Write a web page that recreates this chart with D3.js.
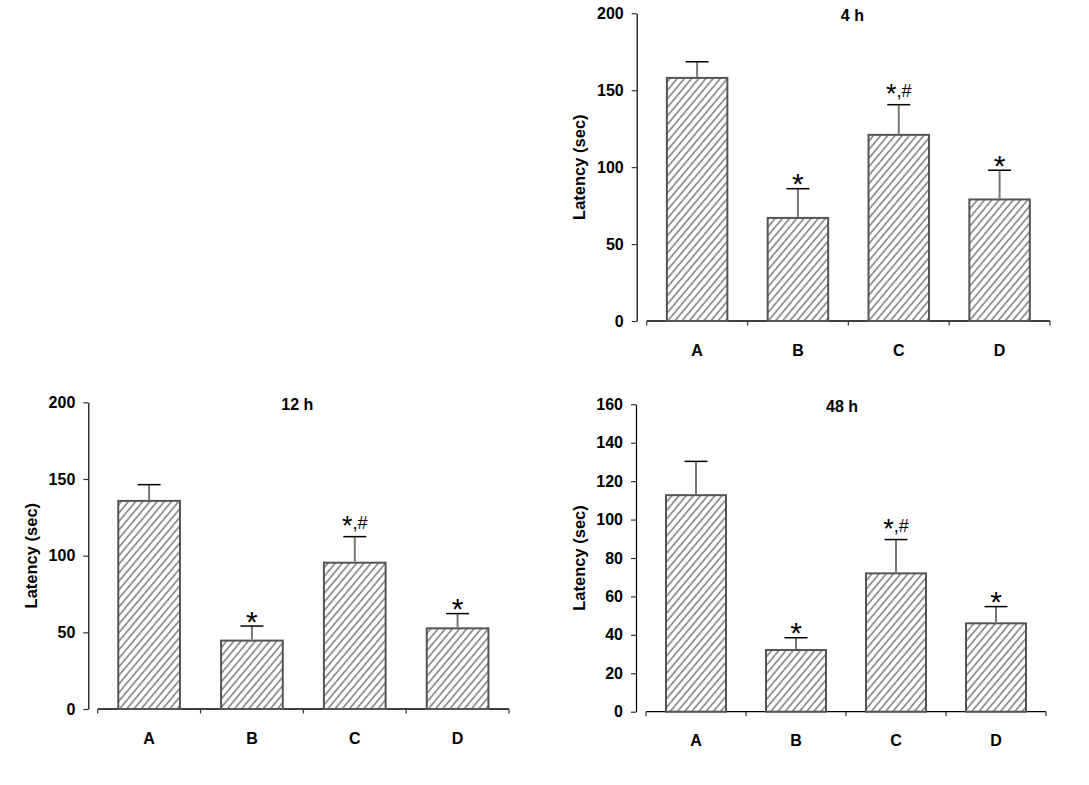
<!DOCTYPE html>
<html>
<head>
<meta charset="utf-8">
<script src="https://cdn.jsdelivr.net/npm/d3@7/dist/d3.min.js"></script>
<style>
  html, body { margin: 0; padding: 0; background: #fff; }
  svg { display: block; }
  text { font-family: "Liberation Sans", Arial, sans-serif; fill: #000; }
</style>
</head>
<body>
<svg id="chart" width="1089" height="785"></svg>
<script>
// ---- data ----
const categories = ["A", "B", "C", "D"];
const latency4h  = [158, 67, 121, 79];
const sem4h      = [10.5, 19, 19.6, 19];
const latency12h = [135.7, 44.6, 95.4, 52.6];
const sem12h     = [10.6, 9.5, 17, 9.6];
const latency48h = [112.7, 32.1, 72, 46];
const sem48h     = [17.6, 6.4, 17.6, 8.7];
const signif     = ["", "*", "*,#", "*"];
const ticks200   = [0, 50, 100, 150, 200];
const ticks160   = [0, 20, 40, 60, 80, 100, 120, 140, 160];
const yLabel     = "Latency (sec)";

// ---- layout (positions only) ----
const panels = [
  { title: "4 h",  values: latency4h,  sem: sem4h,  ticks: ticks200, yMax: 200,
    axisX: 636.7, top: 13.3,  bottom: 321,   x0: 646.7, x1: 1050, titleDx: 4 },
  { title: "12 h", values: latency12h, sem: sem12h, ticks: ticks200, yMax: 200,
    axisX: 88.3,  top: 402.3, bottom: 709,   x0: 97.7,  x1: 509,  titleDx: -6 },
  { title: "48 h", values: latency48h, sem: sem48h, ticks: ticks160, yMax: 160,
    axisX: 636,   top: 404.3, bottom: 711.7, x0: 646,   x1: 1046, titleDx: -4 }
];

const FONT = "Liberation Sans, Arial, sans-serif";
const svg = d3.select("#chart");
const defs = svg.append("defs");
const pat = defs.append("pattern")
  .attr("id", "hatch")
  .attr("patternUnits", "userSpaceOnUse")
  .attr("width", 5.5).attr("height", 10)
  .attr("patternTransform", "rotate(40)");
pat.append("rect").attr("width", 5.5).attr("height", 10).attr("fill", "#fff");
pat.append("line").attr("x1", 2.75).attr("y1", -1).attr("x2", 2.75).attr("y2", 11)
  .attr("stroke", "#1a1a1a").attr("stroke-width", 0.9);

panels.forEach(p => {
  const g = svg.append("g");
  const y = d3.scaleLinear().domain([0, p.yMax]).range([p.bottom, p.top]);
  const x = d3.scaleBand().domain(categories).range([p.x0, p.x1])
    .paddingInner(0.4).paddingOuter(0.2);

  // y axis
  const ya = g.append("g").attr("transform", `translate(${p.axisX},0)`)
    .call(d3.axisLeft(y).tickValues(p.ticks).tickSize(5).tickSizeOuter(0).tickPadding(8));
  ya.attr("font-size", 16).attr("font-family", FONT);
  ya.select(".domain").attr("stroke", "#000").attr("stroke-width", 1.2);
  ya.selectAll(".tick line").attr("stroke", "#333").attr("stroke-width", 1.2);
  ya.selectAll(".tick text").attr("font-family", FONT)
    .style("font-size", "16px").attr("font-weight", "bold").attr("fill", "#000");

  // x axis (custom: line with boundary ticks)
  g.append("line").attr("x1", p.x0).attr("x2", p.x1)
    .attr("y1", p.bottom).attr("y2", p.bottom)
    .attr("stroke", "#000").attr("stroke-width", 1.3);
  const bounds = d3.range(categories.length + 1).map(i => x.range()[0] + i * x.step());
  g.selectAll(".xtick").data(bounds).join("line")
    .attr("x1", d => d).attr("x2", d => d)
    .attr("y1", p.bottom).attr("y2", p.bottom + 4.5)
    .attr("stroke", "#333").attr("stroke-width", 1.2);
  g.selectAll(".xlab").data(categories).join("text")
    .attr("x", d => x(d) + x.bandwidth() / 2)
    .attr("y", p.bottom + 34.5)
    .attr("text-anchor", "middle")
    .style("font-size", "16px").attr("font-weight", "bold")
    .text(d => d);

  // bars
  const rows = categories.map((c, i) => ({ c, v: p.values[i], s: p.sem[i], m: signif[i] }));
  g.selectAll(".bar").data(rows).join("rect")
    .attr("x", d => x(d.c))
    .attr("y", d => y(d.v))
    .attr("width", x.bandwidth())
    .attr("height", d => y(0) - y(d.v))
    .attr("fill", "url(#hatch)")
    .attr("stroke", "#555").attr("stroke-width", 2);

  // error bars
  const cx = d => x(d.c) + x.bandwidth() / 2;
  g.selectAll(".stem").data(rows).join("line")
    .attr("x1", cx).attr("x2", cx)
    .attr("y1", d => y(d.v) - 1).attr("y2", d => y(d.v + d.s))
    .attr("stroke", "#777").attr("stroke-width", 2);
  g.selectAll(".cap").data(rows).join("line")
    .attr("x1", d => cx(d) - 11.5).attr("x2", d => cx(d) + 11.5)
    .attr("y1", d => y(d.v + d.s)).attr("y2", d => y(d.v + d.s))
    .attr("stroke", "#000").attr("stroke-width", 1.5);

  // significance marks
  rows.filter(d => d.m === "*").forEach(d => {
    g.append("text")
      .attr("x", cx(d)).attr("y", y(d.v + d.s) + 5.5)
      .attr("text-anchor", "middle").style("font-size", "30px")
      .text(d.m);
  });
  rows.filter(d => d.m === "*,#").forEach(d => {
    const t = g.append("text")
      .attr("x", cx(d)).attr("y", y(d.v + d.s) - 8)
      .attr("text-anchor", "middle").style("font-size", "18px");
    t.append("tspan").style("font-size", "27px").attr("dy", 6.5).text("*");
    t.append("tspan").attr("dy", -6.5).text(",#");
  });

  // title
  g.append("text")
    .attr("x", (p.x0 + p.x1) / 2 + p.titleDx)
    .attr("y", p.top + 7.5)
    .attr("text-anchor", "middle")
    .style("font-size", "16px").attr("font-weight", "bold")
    .text(p.title);

  // y label
  g.append("text")
    .attr("transform", `translate(${p.axisX - 51.5},${(p.top + p.bottom) / 2}) rotate(-90)`)
    .attr("text-anchor", "middle")
    .style("font-size", "16.5px").attr("font-weight", "bold")
    .text(yLabel);
});
</script>
</body>
</html>
